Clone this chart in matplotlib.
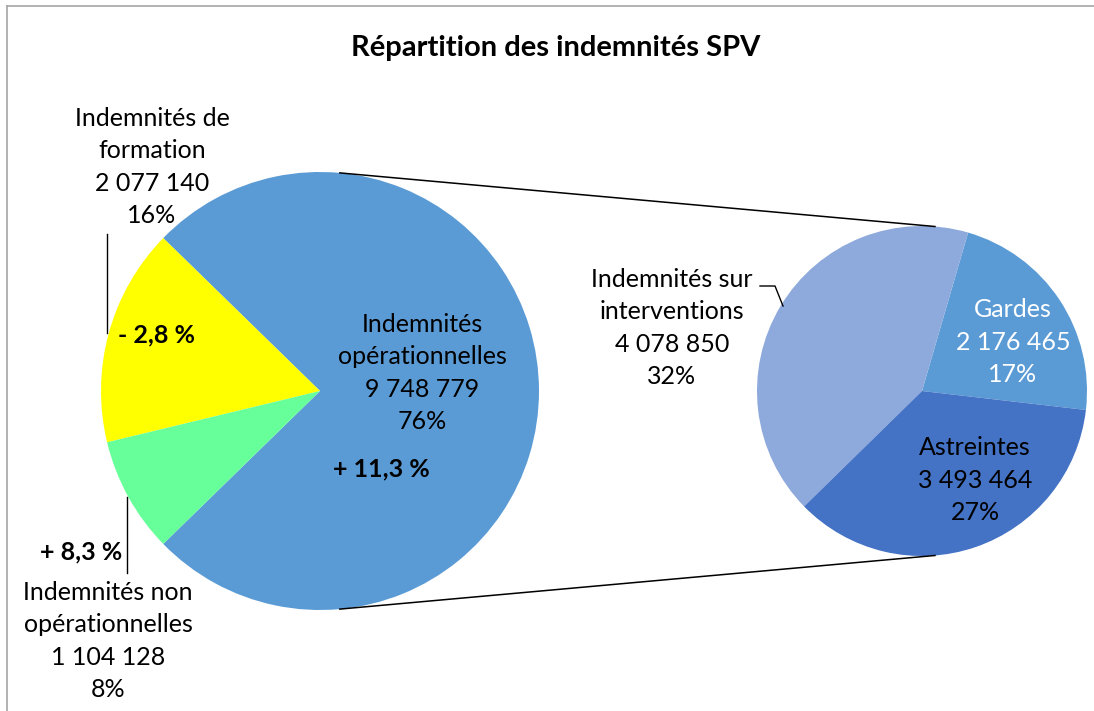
import matplotlib
matplotlib.use("Agg")
import matplotlib.pyplot as plt
import numpy as np

plt.rcParams['font.family'] = ['Lato', 'DejaVu Sans']

# main pie
main_labels = ["Indemnités\nopérationnelles", "Indemnités de\nformation", "Indemnités non\nopérationnelles"]
main_values = [9748779, 2077140, 1104128]
main_pcts = ["76%", "16%", "8%"]
main_changes = ["+ 11,3 %", "- 2,8 %", "+ 8,3 %"]
main_colors = ["#5B9BD5", "#FFFF00", "#66FF99"]

# detail pie (split of "opérationnelles")
sub_labels = ["Gardes", "Indemnités sur\ninterventions", "Astreintes"]
sub_values = [2176465, 4078850, 3493464]
sub_pcts = ["17%", "32%", "27%"]
sub_colors = ["#5B9BD5", "#8EA9DB", "#4472C4"]

W, H = 1094, 711
total = sum(main_values)


def fmt(v):
    return "{:,}".format(v).replace(",", " ")


fig = plt.figure(figsize=(W / 100, H / 100), dpi=100)
ax = fig.add_axes([0, 0, 1, 1])

# geometry in pixels (y measured from top, converted below)
c1 = (320, H - 391)
r1 = 219
c2 = (922, H - 391)
r2 = 165

start1 = -360.0 * main_values[0] / total / 2
ax.pie(main_values, colors=main_colors, center=c1, radius=r1,
       startangle=start1, counterclock=True,
       wedgeprops=dict(linewidth=0))
ax.pie(sub_values, colors=sub_colors, center=c2, radius=r2,
       startangle=-6.6, counterclock=True,
       wedgeprops=dict(linewidth=0))

# connector lines between the two pies
for a1, a2 in [(84.8, 85.5), (-84.8, -85.5)]:
    p1 = (c1[0] + r1 * np.cos(np.radians(a1)), c1[1] + r1 * np.sin(np.radians(a1)))
    p2 = (c2[0] + r2 * np.cos(np.radians(a2)), c2[1] + r2 * np.sin(np.radians(a2)))
    ax.plot([p1[0], p2[0]], [p1[1], p2[1]], color="black", lw=1.1)

fs = 18
ls = 1.5


def lab(x, y, s, color="black", **kw):
    ax.text(x, H - y, s, fontsize=fs, ha="center", va="center",
            color=color, linespacing=ls, **kw)


# main pie labels
lab(422, 373, main_labels[0] + "\n" + fmt(main_values[0]) + "\n" + main_pcts[0])
lab(152, 167, main_labels[1] + "\n" + fmt(main_values[1]) + "\n" + main_pcts[1])
lab(108, 641, main_labels[2] + "\n" + fmt(main_values[2]) + "\n" + main_pcts[2])

ax.text(381, H - 469, main_changes[0], fontsize=fs, fontweight="bold", ha="center", va="center")
ax.text(156, H - 335, main_changes[1], fontsize=fs, fontweight="bold", ha="center", va="center")
ax.text(122, H - 552, main_changes[2], fontsize=fs, fontweight="bold", ha="right", va="center")

# leader lines
ax.plot([107, 107], [H - 234, H - 333], color="black", lw=1)
ax.plot([127, 127], [H - 497, H - 573], color="black", lw=1)
ax.plot([760, 775, 783], [H - 286, H - 286, H - 306], color="black", lw=1)

# detail pie labels
lab(1013, 342, sub_labels[0] + "\n" + fmt(sub_values[0]) + "\n" + sub_pcts[0], color="white")
lab(672, 328, sub_labels[1] + "\n" + fmt(sub_values[1]) + "\n" + sub_pcts[1])
lab(975, 480, sub_labels[2] + "\n" + fmt(sub_values[2]) + "\n" + sub_pcts[2])

ax.text(556, H - 48, "Répartition des indemnités SPV", fontsize=21,
        fontweight="bold", ha="center", va="center")

# chart border (top and left visible)
ax.plot([7, 7], [0, H - 6], color="#A6A6A6", lw=1.2)
ax.plot([7, W], [H - 6, H - 6], color="#A6A6A6", lw=1.2)

ax.set_xlim(0, W)
ax.set_ylim(0, H)
ax.set_aspect("equal")
ax.axis("off")

fig.savefig("out.png", dpi=100)
